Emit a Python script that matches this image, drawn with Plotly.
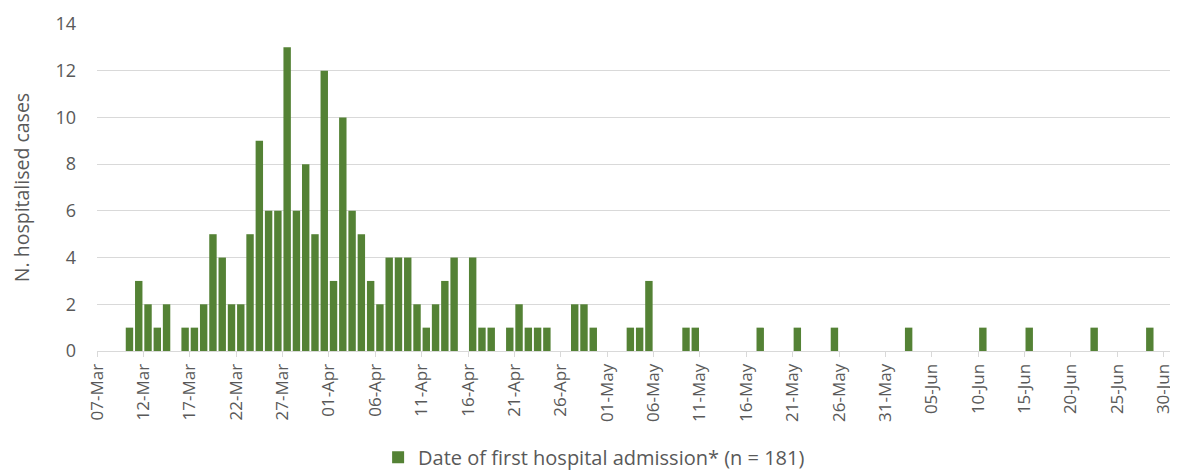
import plotly.graph_objects as go
import pandas as pd

dates = [
    "2020-03-10", "2020-03-11", "2020-03-12", "2020-03-13", "2020-03-14",
    "2020-03-16", "2020-03-17", "2020-03-18", "2020-03-19", "2020-03-20",
    "2020-03-21", "2020-03-22", "2020-03-23", "2020-03-24", "2020-03-25",
    "2020-03-26", "2020-03-27", "2020-03-28", "2020-03-29", "2020-03-30",
    "2020-03-31",
    "2020-04-01", "2020-04-02", "2020-04-03", "2020-04-04", "2020-04-05",
    "2020-04-06", "2020-04-07", "2020-04-08", "2020-04-09", "2020-04-10",
    "2020-04-11", "2020-04-12", "2020-04-13", "2020-04-14", "2020-04-16",
    "2020-04-17", "2020-04-18", "2020-04-20", "2020-04-21", "2020-04-22",
    "2020-04-23", "2020-04-24", "2020-04-27", "2020-04-28", "2020-04-29",
    "2020-05-03", "2020-05-04", "2020-05-05", "2020-05-09", "2020-05-10",
    "2020-05-17", "2020-05-21", "2020-05-25",
    "2020-06-02", "2020-06-10", "2020-06-15", "2020-06-22", "2020-06-28",
]
cases = [
    1, 3, 2, 1, 2,
    1, 1, 2, 5, 4,
    2, 2, 5, 9, 6,
    6, 13, 6, 8, 5,
    12,
    3, 10, 6, 5, 3,
    2, 4, 4, 4, 2,
    1, 2, 3, 4, 4,
    1, 1, 1, 2, 1,
    1, 1, 2, 2, 1,
    1, 1, 3, 1, 1,
    1, 1, 1,
    1, 1, 1, 1, 1,
]

tick_dates = pd.date_range("2020-03-07", "2020-06-30", freq="5D")
tick_labels = [d.strftime("%d-%b") for d in tick_dates]

font = "Open Sans"
grey = "#595959"

fig = go.Figure()
fig.add_trace(go.Bar(
    x=dates, y=cases,
    xperiod=86400000, xperiodalignment="middle",
    marker=dict(color="#548235", line=dict(width=0)),
    name="Date of first hospital admission* (n = 181)",
))

fig.update_layout(
    width=1170, height=464,
    margin=dict(l=89, r=5, t=16, b=121, autoexpand=False),
    plot_bgcolor="white", paper_bgcolor="white",
    bargap=0.2,
    showlegend=True,
    legend=dict(orientation="h", x=0.462, xanchor="center",
                y=-0.325, yanchor="middle",
                font=dict(family=font, size=20, color=grey)),
    font=dict(family=font, color=grey),
)
fig.update_xaxes(
    type="date", automargin=False,
    range=["2020-03-07", "2020-07-01"],
    tickvals=list(tick_dates), ticktext=tick_labels,
    tickangle=-90, tickfont=dict(family=font, size=17, color=grey),
    showgrid=False, showline=True, linecolor="#d9d9d9", linewidth=1,
    ticks="outside", ticklen=5, tickcolor="#d9d9d9",
)
fig.update_yaxes(
    range=[0, 14], dtick=2, automargin=False,
    showgrid=True, gridcolor="#d9d9d9", gridwidth=1,
    zeroline=False,
    tickfont=dict(family=font, size=18, color=grey),
    ticklabelstandoff=20,
    title=dict(text="N. hospitalised cases", font=dict(family=font, size=19.5, color=grey), standoff=22),
)
fig.write_html("out.html")
